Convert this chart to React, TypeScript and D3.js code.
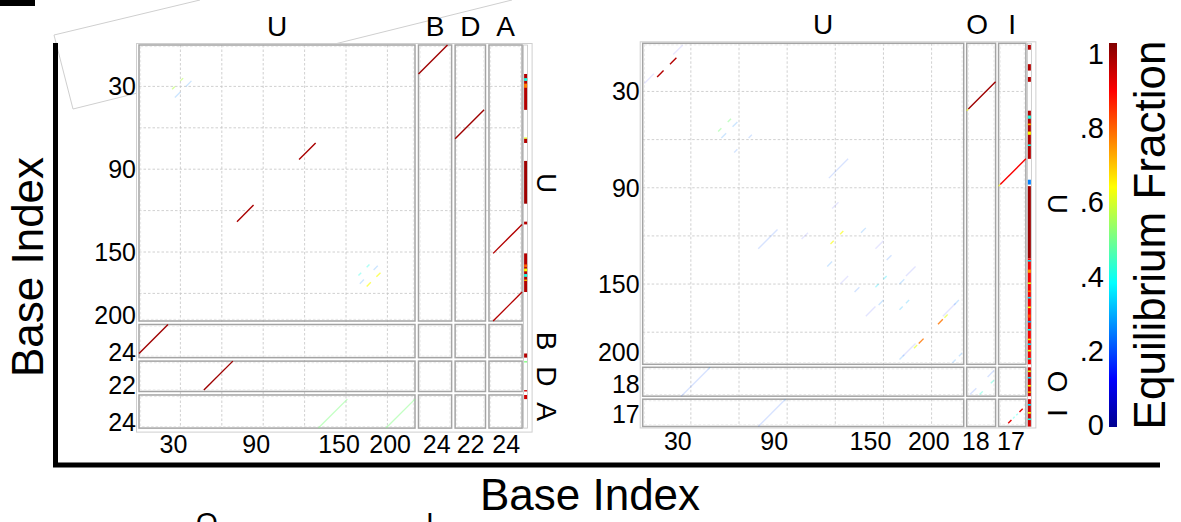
import React from 'react';
import * as d3 from 'd3';

const FONT = "'Liberation Sans', Arial, Helvetica, sans-serif";

// ---------- data ----------
const leftStrands = ['U', 'B', 'D', 'A'];
const leftLengths = [200, 24, 22, 24];
const leftTickLabels = [[30, 90, 150, 200], [24], [22], [24]];

const rightStrands = ['U', 'O', 'I'];
const rightLengths = [200, 18, 17];
const rightTickLabels = [[30, 90, 150, 200], [18], [17]];

const gridValues = [30, 60, 90, 120, 150, 180];

// helix: [rowStrand, colStrand, firstRowBase, firstColBase, length, upperFraction, lowerFraction]
type Helix = [string, string, number, number, number, number, number];
const leftHelices: Helix[] = [
  ['U', 'B', 1, 21, 21, 0.97, 0.97],
  ['U', 'D', 48, 21, 21, 0.97, 0.97],
  ['U', 'U', 72, 128, 12, 0.96, 0.96],
  ['U', 'A', 131, 24, 21, 0.95, 0.5],
  ['U', 'A', 180, 24, 21, 0.95, 0.5],
  ['U', 'U', 25, 32, 2, 0.55, 0.55],
  ['U', 'U', 27, 38, 4, 0.25, 0.25],
  ['U', 'U', 160, 167, 2, 0.4, 0.4],
  ['U', 'U', 166, 175, 3, 0.62, 0.62],
  ['U', 'U', 161, 173, 3, 0.25, 0.25],
];

const rightHelices: Helix[] = [
  ['U', 'O', 25, 18, 17, 0.97, 0.2],
  ['U', 'O', 42, 1, 1, 0.62, 0.25],
  ['U', 'I', 73, 17, 16, 0.88, 0.2],
  ['U', 'I', 89, 1, 1, 0.62, 0.25],
  ['U', 'U', 10, 21, 4, 0.95, 0.95],
  ['U', 'U', 2, 25, 6, 0.12, 0.12],
  ['U', 'U', 48, 55, 2, 0.5, 0.5],
  ['U', 'U', 50, 59, 3, 0.25, 0.25],
  ['U', 'U', 58, 68, 2, 0.22, 0.22],
  ['U', 'U', 73, 128, 12, 0.2, 0.2],
  ['U', 'U', 100, 122, 4, 0.12, 0.12],
  ['U', 'U', 118, 125, 2, 0.62, 0.62],
  ['U', 'U', 116, 139, 3, 0.25, 0.25],
  ['U', 'U', 124, 150, 5, 0.12, 0.12],
  ['U', 'U', 146, 152, 2, 0.35, 0.35],
  ['U', 'U', 133, 155, 3, 0.22, 0.22],
  ['U', 'U', 140, 170, 6, 0.14, 0.14],
  ['U', 'U', 148, 163, 3, 0.25, 0.25],
  ['U', 'U', 161, 166, 2, 0.3, 0.3],
  ['U', 'U', 163, 195, 8, 0.14, 0.14],
  ['U', 'U', 170, 190, 2, 0.6, 0.6],
  ['U', 'U', 173, 187, 3, 0.76, 0.76],
  ['U', 'U', 161, 197, 3, 0.25, 0.25],
  ['U', 'U', 194, 199, 2, 0.25, 0.25],
  ['O', 'O', 3, 17, 4, 0.2, 0.2],
  ['O', 'O', 9, 17, 2, 0.42, 0.42],
  ['I', 'I', 7, 15, 2, 0.9, 0.9],
  ['I', 'I', 10, 12, 1, 0.4, 0.4],
];

// unpaired strip: [strand, fromBase, toBase, fraction]
type Seg = [string, number, number, number];
const leftUnpaired: Seg[] = [
  ['U', 22, 47, 0.95], ['U', 25, 26, 0.4], ['U', 29, 31, 0.75],
  ['U', 68, 68, 0.6], ['U', 69, 71, 0.95], ['U', 85, 115, 0.97],
  ['U', 129, 130, 0.95], ['U', 152, 179, 0.95], ['U', 160, 161, 0.78],
  ['U', 163, 164, 0.62], ['U', 167, 168, 0.4], ['U', 171, 171, 0.7],
  ['B', 22, 24, 0.95], ['D', 1, 1, 0.5], ['D', 22, 22, 0.92], ['A', 1, 3, 0.92],
];
const rightUnpaired: Seg[] = [
  ['U', 2, 4, 0.95], ['U', 14, 17, 0.95], ['U', 22, 24, 0.95],
  ['U', 43, 72, 0.95], ['U', 46, 47, 0.4], ['U', 51, 51, 0.7], ['U', 56, 57, 0.62], ['U', 64, 64, 0.4],
  ['U', 86, 88, 0.25], ['U', 90, 134, 0.97], ['U', 135, 200, 0.88],
  ['U', 136, 136, 0.35], ['U', 142, 143, 0.72], ['U', 150, 150, 0.6], ['U', 155, 155, 0.75],
  ['U', 159, 159, 0.35], ['U', 165, 165, 0.62], ['U', 170, 171, 0.8], ['U', 174, 174, 0.3],
  ['U', 179, 179, 0.38], ['U', 185, 185, 0.65], ['U', 188, 188, 0.35], ['U', 192, 192, 0.6],
  ['U', 197, 197, 0.4],
  ['O', 1, 18, 0.92], ['O', 3, 3, 0.6], ['O', 7, 7, 0.35], ['O', 12, 12, 0.62], ['O', 16, 16, 0.7],
  ['I', 1, 17, 0.92], ['I', 4, 4, 0.35], ['I', 9, 9, 0.62], ['I', 13, 13, 0.4],
];

const colorbarTicks = [0, 0.2, 0.4, 0.6, 0.8, 1];
const colorbarTickLabels = ['0', '.2', '.4', '.6', '.8', '1'];

// ---------- styles ----------
const jetDomain = [0, 0.125, 0.375, 0.625, 0.875, 1];
const jetRange = ['#00008f', '#0000ff', '#00ffff', '#ffff00', '#ff0000', '#800000'];
const jet = d3.scaleLinear<string>().domain(jetDomain).range(jetRange).interpolate(d3.interpolateRgb).clamp(true);
const lineOpacity = (v: number) => Math.min(1, 0.05 + 1.2 * Math.pow(v, 1.5));

type Layout = {
  x0: number; y0: number; unit: number; gap: number;
  stripGap: number; stripW: number; frameBottom: number;
  sideLabelX: number; topLabelDx: number[];
  xLabelY: number; xLabelDx: number; endDx: number[]; endDy: number;
};

const leftLayout: Layout = {
  x0: 139, y0: 45, unit: 1.38, gap: 3.5, stripGap: 2, stripW: 3, frameBottom: 4,
  sideLabelX: 546.5, topLabelDx: [0, 0, 0, 0], xLabelY: 444, xLabelDx: -7, endDx: [-4, -1, -1, -2], endDy: -6,
};
const rightLayout: Layout = {
  x0: 642.7, y0: 43.3, unit: 1.605, gap: 3, stripGap: 2, stripW: 3, frameBottom: 1.5,
  sideLabelX: 1057, topLabelDx: [20, -4, 0], xLabelY: 441, xLabelDx: -13, endDx: [-14, -6, -1], endDy: -12,
};

function Panel({ strands, lengths, helices, unpaired, tickLabels, L }: {
  strands: string[]; lengths: number[]; helices: Helix[]; unpaired: Seg[]; tickLabels: number[][]; L: Layout;
}) {
  const offsets: number[] = [];
  lengths.forEach((len, k) => {
    offsets.push(k === 0 ? 0 : offsets[k - 1] + lengths[k - 1] * L.unit + L.gap);
  });
  const xs = lengths.map((len, k) => d3.scaleLinear().domain([0, len]).range([L.x0 + offsets[k], L.x0 + offsets[k] + len * L.unit]));
  const ys = lengths.map((len, k) => d3.scaleLinear().domain([0, len]).range([L.y0 + offsets[k], L.y0 + offsets[k] + len * L.unit]));
  const idx: Record<string, number> = {};
  strands.forEach((s, k) => (idx[s] = k));
  const n = strands.length;
  const xEnd = xs[n - 1].range()[1];
  const yEnd = ys[n - 1].range()[1];
  const stripX = xEnd + L.stripGap;
  const fx = L.x0 - 2.5, fy = L.y0 - 1.5;
  const fr = stripX + L.stripW + 5;
  const fb = yEnd + L.frameBottom;

  const upper: any[] = [];
  const lower: any[] = [];
  helices.forEach(([rs, cs, i, j, len, up, low]) => {
    const r = idx[rs], c = idx[cs];
    upper.push({ x1: xs[c](j), y1: ys[r](i - 1), x2: xs[c](j - len), y2: ys[r](i - 1 + len), v: up });
    lower.push({ x1: xs[r](i - 1), y1: ys[c](j), x2: xs[r](i - 1 + len), y2: ys[c](j - len), v: low });
  });

  return (
    <g>
      <rect x={fx} y={fy} width={fr - fx} height={fb - fy} fill="#fff" stroke="#cfcfcf" strokeWidth={1} />
      {gridValues.map((v) => (
        <g key={'g' + v}>
          <line x1={xs[0](v)} x2={xs[0](v)} y1={L.y0} y2={yEnd} stroke="#c4c4c4" strokeWidth={0.8} strokeDasharray="2.5,2" />
          <line y1={ys[0](v)} y2={ys[0](v)} x1={L.x0} x2={xEnd} stroke="#c4c4c4" strokeWidth={0.8} strokeDasharray="2.5,2" />
        </g>
      ))}
      {strands.map((a, ra) => strands.map((b, cb) => {
        const x = xs[cb].range()[0], y = ys[ra].range()[0];
        const w = lengths[cb] * L.unit, h = lengths[ra] * L.unit;
        return (
          <g key={a + b + ra + cb}>
            <rect x={x} y={y} width={w} height={h} fill="none" stroke="#a4a4a4" strokeWidth={1.5} />
            <rect x={x + 1.6} y={y + 1.6} width={w - 3.2} height={h - 3.2} fill="none" stroke="#e2e2e2" strokeWidth={0.8} strokeDasharray="2.5,2" />
          </g>
        );
      }))}
      <rect x={stripX - 0.5} y={L.y0} width={L.stripW + 1} height={yEnd - L.y0} fill="none" stroke="#c4c4c4" strokeWidth={0.8} />
      {unpaired.map(([s, a, b, v], k) => {
        const y = ys[idx[s]];
        return <rect key={'u' + k} x={stripX} y={y(a - 1)} width={L.stripW} height={y(b) - y(a - 1)} fill={jet(v)} />;
      })}
      {lower.map((d, k) => (
        <line key={'l' + k} x1={d.x1} y1={d.y1} x2={d.x2} y2={d.y2} stroke={jet(d.v)} strokeOpacity={lineOpacity(d.v)} strokeWidth={1.4} />
      ))}
      {upper.map((d, k) => (
        <line key={'h' + k} x1={d.x1} y1={d.y1} x2={d.x2} y2={d.y2} stroke={jet(d.v)} strokeOpacity={lineOpacity(d.v)} strokeWidth={1.4} />
      ))}
      {strands.map((s, k) => (
        <text key={'t' + k} x={(xs[k].range()[0] + xs[k].range()[1]) / 2 + L.topLabelDx[k]} y={L.y0 - 9}
          textAnchor="middle" fontFamily={FONT} fontSize={28} fill="#000">{s}</text>
      ))}
      {strands.map((s, k) => {
        const cy = (ys[k].range()[0] + ys[k].range()[1]) / 2;
        return (
          <text key={'s' + k} transform={`translate(${L.sideLabelX},${cy}) rotate(90)`} textAnchor="middle"
            dominantBaseline="central" fontFamily={FONT} fontSize={28} fill="#000">{s}</text>
        );
      })}
      {tickLabels.map((ticks, k) => ticks.map((v) => {
        const isEnd = v === lengths[k];
        const tx = isEnd ? xs[k](v) + L.endDx[k] : xs[k](v) + L.xLabelDx;
        const ty = isEnd ? ys[k](v) + L.endDy : ys[k](v);
        return (
          <g key={'k' + k + '-' + v}>
            <text x={tx} y={L.xLabelY} textAnchor={isEnd ? 'end' : 'middle'} dominantBaseline="central"
              fontFamily={FONT} fontSize={25} fill="#000">{v}</text>
            <text x={L.x0 - 3} y={ty} textAnchor="end" dominantBaseline="central"
              fontFamily={FONT} fontSize={25} fill="#000">{v}</text>
          </g>
        );
      }))}
    </g>
  );
}

function Colorbar() {
  const x = 1109, w = 8, top = 43, bottom = 427;
  const labelY = d3.scaleLinear().domain([0, 1]).range([bottom - 2, top + 11]);
  return (
    <g>
      <defs>
        <linearGradient id="jetGrad" x1="0" y1="1" x2="0" y2="0">
          {jetDomain.map((d, k) => <stop key={k} offset={d} stopColor={jetRange[k]} />)}
        </linearGradient>
      </defs>
      <rect x={x} y={top} width={w} height={bottom - top} fill="url(#jetGrad)" />
      {colorbarTicks.map((v, k) => (
        <text key={k} x={1104} y={labelY(v)} textAnchor="end" dominantBaseline="central"
          fontFamily={FONT} fontSize={29} fill="#000">{colorbarTickLabels[k]}</text>
      ))}
      <text transform={`translate(1165,${(top + bottom) / 2}) rotate(-90)`} textAnchor="middle"
        fontFamily={FONT} fontSize={44} fill="#000">Equilibrium Fraction</text>
    </g>
  );
}

export default function App() {
  return (
    <svg width={1181} height={522} style={{ position: 'absolute', left: 0, top: 0, background: '#fff' }}>
      <rect x={0} y={0} width={1181} height={522} fill="#fff" />
      <rect x={0} y={0} width={35} height={6} fill="#000" />
      <polyline points="200,0 54,35 73,109 512,0" fill="none" stroke="#cfcfcf" strokeWidth={1} />
      <Panel strands={leftStrands} lengths={leftLengths} helices={leftHelices} unpaired={leftUnpaired}
        tickLabels={leftTickLabels} L={leftLayout} />
      <Panel strands={rightStrands} lengths={rightLengths} helices={rightHelices} unpaired={rightUnpaired}
        tickLabels={rightTickLabels} L={rightLayout} />
      <Colorbar />
      <line x1={55.5} y1={43} x2={55.5} y2={467} stroke="#000" strokeWidth={5} />
      <line x1={53} y1={465} x2={1160} y2={465} stroke="#000" strokeWidth={5} />
      <text x={590} y={510} textAnchor="middle" fontFamily={FONT} fontSize={44} fill="#000">Base Index</text>
      <text transform="translate(43,267) rotate(-90)" textAnchor="middle" fontFamily={FONT} fontSize={44} fill="#000">Base Index</text>
      <text x={207} y={532} textAnchor="middle" fontFamily={FONT} fontSize={28} fill="#000">O</text>
      <text x={430} y={532} textAnchor="middle" fontFamily={FONT} fontSize={28} fill="#000">I</text>
    </svg>
  );
}
